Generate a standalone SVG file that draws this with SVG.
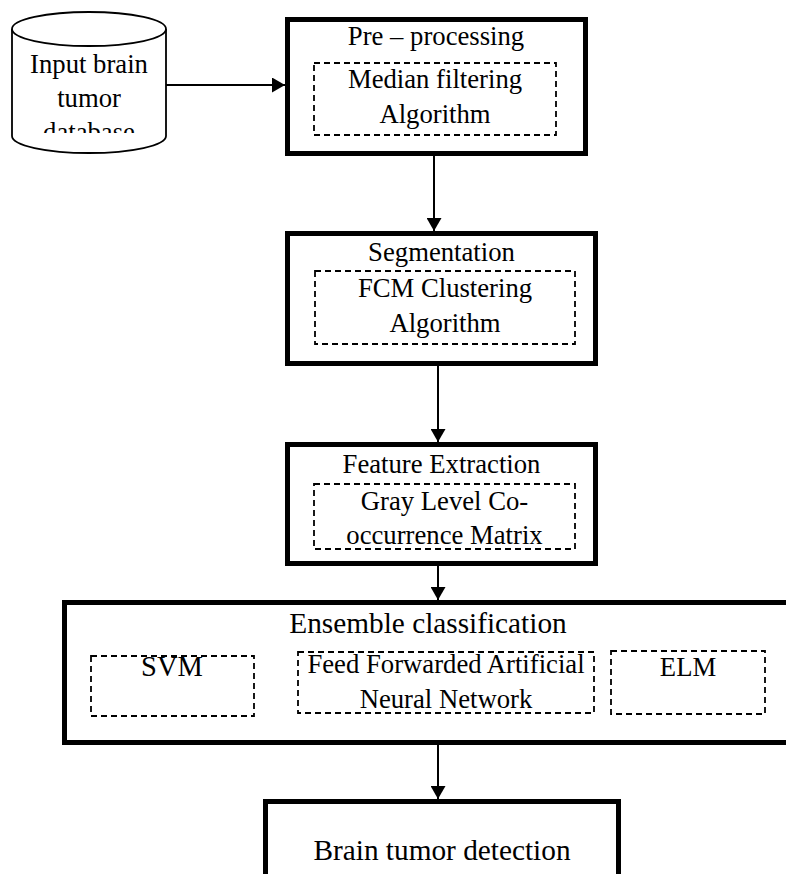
<svg xmlns="http://www.w3.org/2000/svg" width="786" height="874" viewBox="0 0 786 874">
<style>
text{font-family:"Liberation Serif","Times New Roman",serif;fill:#000;text-anchor:middle}
.t{font-size:26.7px}
.b{font-size:29.3px}
.box{fill:#fff;stroke:#000;stroke-width:5}
.dash{fill:none;stroke:#000;stroke-width:1.8;stroke-dasharray:6 4}
.cyl{fill:#fff;stroke:#000;stroke-width:1.8}
.con{fill:none;stroke:#000;stroke-width:2;marker-end:url(#ah)}
</style>
<defs>
<marker id="ah" markerWidth="14" markerHeight="15" refX="13" refY="7.5" orient="auto" markerUnits="userSpaceOnUse">
<path d="M0,0 L13,7.5 L0,15 Z" fill="#000"/>
</marker>
<clipPath id="cylclip"><rect x="12" y="40" width="154" height="93"/></clipPath>
</defs>
<rect width="786" height="874" fill="#fff"/>
<g id="database">
<path class="cyl" d="M12,29 L12,136 A77,17 0 0 0 166,136 L166,29"/>
<ellipse class="cyl" cx="89" cy="29" rx="77" ry="17"/>
<g clip-path="url(#cylclip)">
<text class="t" x="89" y="73">Input brain</text>
<text class="t" x="89" y="107">tumor</text>
<text class="t" x="89" y="141">database</text>
</g>
</g>
<g id="preprocessing">
<rect class="box" x="287.5" y="19.5" width="298" height="134"/>
<text class="t" x="436" y="45">Pre – processing</text>
<rect class="dash" x="314" y="63" width="242" height="72"/>
<text class="t" x="435" y="88">Median filtering</text>
<text class="t" x="435" y="123">Algorithm</text>
</g>
<g id="segmentation">
<rect class="box" x="287.5" y="233.5" width="308" height="130"/>
<text class="t" x="441.5" y="261">Segmentation</text>
<rect class="dash" x="315" y="271" width="260" height="73"/>
<text class="t" x="445" y="297">FCM Clustering</text>
<text class="t" x="445" y="332">Algorithm</text>
</g>
<g id="feature">
<rect class="box" x="287.5" y="444.5" width="308" height="119"/>
<text class="t" x="441.5" y="473">Feature Extraction</text>
<rect class="dash" x="314" y="484" width="261" height="65"/>
<text class="t" x="444.5" y="510">Gray Level Co-</text>
<text class="t" x="444.5" y="544">occurrence Matrix</text>
</g>
<g id="ensemble">
<rect class="box" x="64.5" y="602.5" width="730" height="140"/>
<text class="b" x="428" y="633">Ensemble classification</text>
<rect class="dash" x="91" y="656" width="163" height="60"/>
<text x="172" y="676" style="font-size:28.5px">SVM</text>
<rect class="dash" x="298" y="652" width="296" height="61"/>
<text class="t" x="446" y="673">Feed Forwarded Artificial</text>
<text class="t" x="446" y="708">Neural Network</text>
<rect class="dash" x="611" y="651" width="154" height="63"/>
<text class="t" x="688" y="676">ELM</text>
</g>
<g id="detection">
<rect class="box" x="265.5" y="801.5" width="353" height="100"/>
<text class="b" x="442" y="860">Brain tumor detection</text>
</g>
<g id="connectors">
<path class="con" d="M166,85 L285,85"/>
<path class="con" d="M434,156 L434,231"/>
<path class="con" d="M438,366 L438,442"/>
<path class="con" d="M438,566 L438,600"/>
<path class="con" d="M438,745 L438,799"/>
</g>
</svg>
